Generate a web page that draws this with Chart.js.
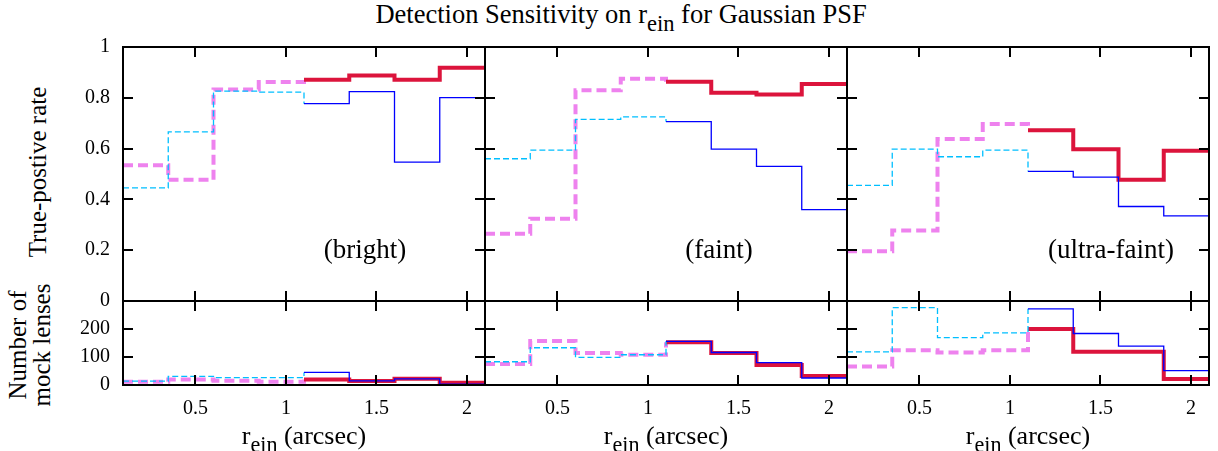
<!DOCTYPE html>
<html>
<head>
<meta charset="utf-8">
<script src="https://cdn.jsdelivr.net/npm/chart.js@4.4.1/dist/chart.umd.min.js"></script>
<style>
  body { margin: 0; background: #fff; }
  #fig { position: relative; width: 1218px; height: 451px; overflow: hidden; font-family: "Liberation Serif", "Times New Roman", serif; color: #000; }
  #fig canvas { position: absolute; }
  .txt { position: absolute; white-space: nowrap; line-height: 1; }
  .c { transform: translate(-50%, -50%); }
  .rot { transform: translate(-50%, -50%) rotate(-90deg); text-align: center; }
  sub { font-size: 0.85em; vertical-align: -0.35em; line-height: 0; }
</style>
</head>
<body>
<div id="fig">
  <div class="txt" style="left:12px;width:1218px;top:1px;text-align:center;font-size:26.5px;line-height:26px;">Detection Sensitivity on r<sub>ein</sub> for Gaussian PSF</div>
  <div class="txt rot" style="left:37px;top:172px;font-size:25px;">True-postive rate</div>
  <div class="txt rot" style="left:30px;top:345px;font-size:25px;line-height:24px;">Number of<br>mock lenses</div>
</div>
<script>
// bin edges of r_ein (arcsec)
var binEdges = [0.1, 0.35, 0.6, 0.85, 1.1, 1.35, 1.6, 1.85, 2.1];
var xTickValues = [0.5, 1, 1.5, 2];
var rateTicks = [0, 0.2, 0.4, 0.6, 0.8, 1];
var countTicks = [0, 100, 200];
var panelNames = ['(bright)', '(faint)', '(ultra-faint)'];

// true-positive rate (A: violet -> crimson, B: sky blue -> blue)
var rateA_bright = [0.534, 0.477, 0.833, 0.862, 0.871, 0.888, 0.871, 0.918];
var rateB_bright = [0.445, 0.666, 0.826, 0.822, 0.777, 0.824, 0.547, 0.801];
var rateA_faint = [0.265, 0.324, 0.830, 0.875, 0.863, 0.820, 0.813, 0.854];
var rateB_faint = [0.560, 0.594, 0.715, 0.725, 0.706, 0.598, 0.530, 0.360];
var rateA_ultra = [0.196, 0.278, 0.638, 0.697, 0.672, 0.597, 0.477, 0.592];
var rateB_ultra = [0.455, 0.598, 0.568, 0.594, 0.510, 0.488, 0.372, 0.335];

// number of mock lenses per bin
var countA_bright = [12, 20, 15, 12, 20, 14, 22, 8];
var countB_bright = [14, 31, 26, 26, 45, 15, 22, 3];
var countA_faint = [75, 157, 114, 108, 153, 114, 71, 32];
var countB_faint = [83, 133, 99, 108, 156, 116, 80, 25];
var countA_ultra = [66, 124, 116, 124, 200, 119, 119, 21];
var countB_ultra = [118, 276, 169, 186, 272, 184, 139, 51];

var rateA = [rateA_bright, rateA_faint, rateA_ultra];
var rateB = [rateB_bright, rateB_faint, rateB_ultra];
var countA = [countA_bright, countA_faint, countA_ultra];
var countB = [countB_bright, countB_faint, countB_ultra];

var colLeft = [123, 485, 847];
var colW = 362;
var rowTop = [47, 301];
var rowH = [254, 84];
var P = 16;
var FONT = "'Liberation Serif', 'Times New Roman', serif";

// first half (dashed) runs to 1.1 and drops to the first solid bin
function firstPart(vals) {
    var pts = [];
    for (var i = 0; i < 4; i++) pts.push({x: binEdges[i], y: vals[i]});
    pts.push({x: binEdges[4], y: vals[4]});
    return pts;
}
function secondPart(vals) {
    var pts = [];
    for (var i = 4; i < 8; i++) pts.push({x: binEdges[i], y: vals[i]});
    pts.push({x: binEdges[8], y: vals[7]});
    return pts;
}

function noPad(s) {
    s.paddingTop = 0; s.paddingBottom = 0; s.paddingLeft = 0; s.paddingRight = 0;
}

var framePlugin = {
    id: 'frame',
    afterDatasetsDraw: function (chart, args, opts) {
        var ctx = chart.ctx, a = chart.chartArea;
        ctx.save();
        ctx.strokeStyle = '#000';
        ctx.lineWidth = 2;
        ctx.beginPath();
        xTickValues.forEach(function (v) {
            var px = Math.round(chart.scales.x.getPixelForValue(v));
            ctx.moveTo(px, a.top); ctx.lineTo(px, a.top + 10);
            ctx.moveTo(px, a.bottom); ctx.lineTo(px, a.bottom - 10);
        });
        opts.yTicks.forEach(function (v) {
            var py = Math.round(chart.scales.y.getPixelForValue(v));
            ctx.moveTo(a.left, py); ctx.lineTo(a.left + 10, py);
            ctx.moveTo(a.right, py); ctx.lineTo(a.right - 10, py);
        });
        ctx.stroke();
        ctx.strokeRect(a.left, a.top, a.right - a.left, a.bottom - a.top);
        ctx.restore();
    }
};

function makePanel(col, row) {
    var fig = document.getElementById('fig');
    var leftExtra = col == 0 ? 90 : P;
    var bottomExtra = row == 1 ? 45 : P;
    var cv = document.createElement('canvas');
    cv.width = leftExtra + colW + P;
    cv.height = P + rowH[row] + bottomExtra;
    cv.style.left = (colLeft[col] - leftExtra) + 'px';
    cv.style.top = (rowTop[row] - P) + 'px';
    fig.appendChild(cv);

    var a = row == 0 ? rateA[col] : countA[col];
    var b = row == 0 ? rateB[col] : countB[col];
    var yTickList = row == 0 ? rateTicks : countTicks;

    new Chart(cv.getContext('2d'), {
        type: 'line',
        data: {
            datasets: [
                {data: secondPart(b), borderColor: '#0000ff', borderWidth: 1.3},
                {data: firstPart(b), borderColor: '#00bfff', borderWidth: 1.3, borderDash: [6, 3]},
                {data: secondPart(a), borderColor: '#dc143c', borderWidth: 4},
                {data: firstPart(a), borderColor: '#ee82ee', borderWidth: 4, borderDash: [10, 5]}
            ]
        },
        options: {
            responsive: false,
            animation: false,
            devicePixelRatio: 1,
            layout: {padding: {left: col == 0 ? 0 : P, right: P, top: P, bottom: row == 1 ? 0 : P}},
            elements: {
                point: {radius: 0},
                line: {stepped: 'before', fill: false, tension: 0, borderCapStyle: 'butt'}
            },
            plugins: {
                legend: {display: false},
                tooltip: {enabled: false},
                frame: {yTicks: yTickList}
            },
            scales: {
                x: {
                    type: 'linear', min: 0.1, max: 2.1,
                    display: row == 1,
                    grid: {display: false, drawTicks: false},
                    border: {display: false},
                    afterBuildTicks: function (s) { s.ticks = xTickValues.map(function (v) { return {value: v}; }); },
                    afterFit: function (s) { s.height = row == 1 ? bottomExtra : 0; noPad(s); },
                    ticks: {
                        padding: 12, color: '#000', maxRotation: 0,
                        font: {family: FONT, size: 20},
                        callback: function (v) { return String(v); }
                    }
                },
                y: {
                    type: 'linear', min: 0, max: row == 0 ? 1 : 300,
                    display: col == 0,
                    grid: {display: false, drawTicks: false},
                    border: {display: false},
                    afterBuildTicks: function (s) { s.ticks = yTickList.map(function (v) { return {value: v}; }); },
                    afterFit: function (s) { s.width = col == 0 ? leftExtra : 0; noPad(s); },
                    ticks: {
                        padding: 13, color: '#000',
                        font: {family: FONT, size: 20},
                        callback: function (v) { return String(v); }
                    }
                }
            }
        },
        plugins: [framePlugin]
    });

    if (row == 0) {
        var lab = document.createElement('div');
        lab.className = 'txt c';
        lab.style.fontSize = '27px';
        lab.style.left = [365, 719, 1111][col] + 'px';
        lab.style.top = '249px';
        lab.textContent = panelNames[col];
        fig.appendChild(lab);
    } else {
        var xt = document.createElement('div');
        xt.className = 'txt c';
        xt.style.fontSize = '26px';
        xt.style.left = (colLeft[col] + colW / 2) + 'px';
        xt.style.top = '436px';
        xt.innerHTML = 'r<sub>ein</sub> (arcsec)';
        fig.appendChild(xt);
    }
}

for (var r = 0; r < 2; r++) {
    for (var c = 0; c < 3; c++) makePanel(c, r);
}
</script>
</body>
</html>
